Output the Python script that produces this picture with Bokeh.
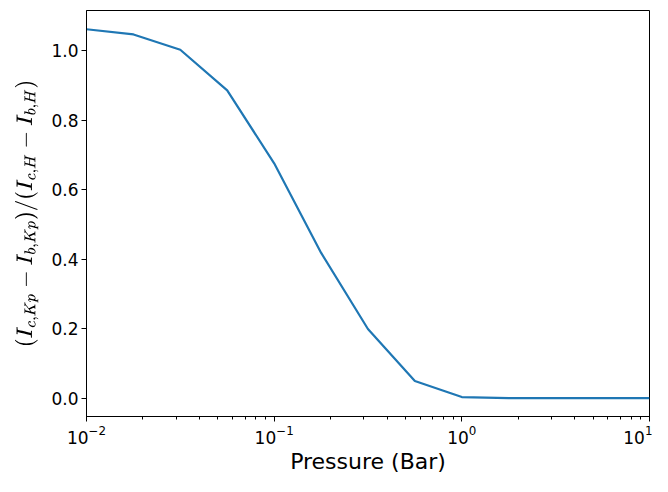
from bokeh.plotting import figure
from bokeh.models import Range1d, FixedTicker, NumeralTickFormatter, LogTicker
from bokeh.embed import file_html
from bokeh.resources import INLINE

pressure = [0.01, 0.0178, 0.0316, 0.0562, 0.1, 0.178, 0.316, 0.562, 1.0, 1.78, 3.16, 5.62, 10.0]
ratio = [1.062, 1.047, 1.003, 0.886, 0.676, 0.418, 0.199, 0.049, 0.003, 0.0, 0.0, 0.0, 0.0]
y_ticks = [0.0, 0.2, 0.4, 0.6, 0.8, 1.0]

p = figure(width=652, height=476, x_axis_type="log",
           x_range=Range1d(0.01, 10), y_range=Range1d(-0.053, 1.116),
           output_backend="svg", toolbar_location=None,
           min_border_left=86, min_border_right=3, min_border_top=10, min_border_bottom=40)

p.line(pressure, ratio, line_color="#1f77b4", line_width=2.2)

p.grid.visible = False
p.outline_line_color = "black"
p.outline_line_width = 1

p.xaxis.ticker = LogTicker(num_minor_ticks=10)
p.yaxis.ticker = FixedTicker(ticks=y_ticks)
p.yaxis.formatter = NumeralTickFormatter(format="0.0")

for ax in (p.xaxis[0], p.yaxis[0]):
    ax.axis_line_color = "black"
    ax.major_tick_line_color = "black"
    ax.minor_tick_line_color = "black"
    ax.major_tick_out = 5
    ax.major_tick_in = 0
    ax.minor_tick_out = 3
    ax.minor_tick_in = 0
    ax.major_label_text_font = "DejaVu Sans"
    ax.major_label_text_font_size = "17px"
    ax.major_label_text_color = "black"
    ax.major_label_standoff = 3
    ax.axis_label_text_font = "DejaVu Sans"
    ax.axis_label_text_font_size = "22px"
    ax.axis_label_text_font_style = "normal"
    ax.axis_label_text_color = "black"
    ax.axis_label_standoff = 2

p.yaxis.minor_tick_line_color = None
p.yaxis.axis_label_text_font_size = "18px"
p.yaxis.axis_label_standoff = 10
p.xaxis.axis_label = "Pressure (Bar)"
p.yaxis.axis_label = r"$$(I_{c,Kp} - I_{b,Kp}) / (I_{c,H} - I_{b,H})$$"

open("out.html", "w").write(file_html(p, INLINE))
